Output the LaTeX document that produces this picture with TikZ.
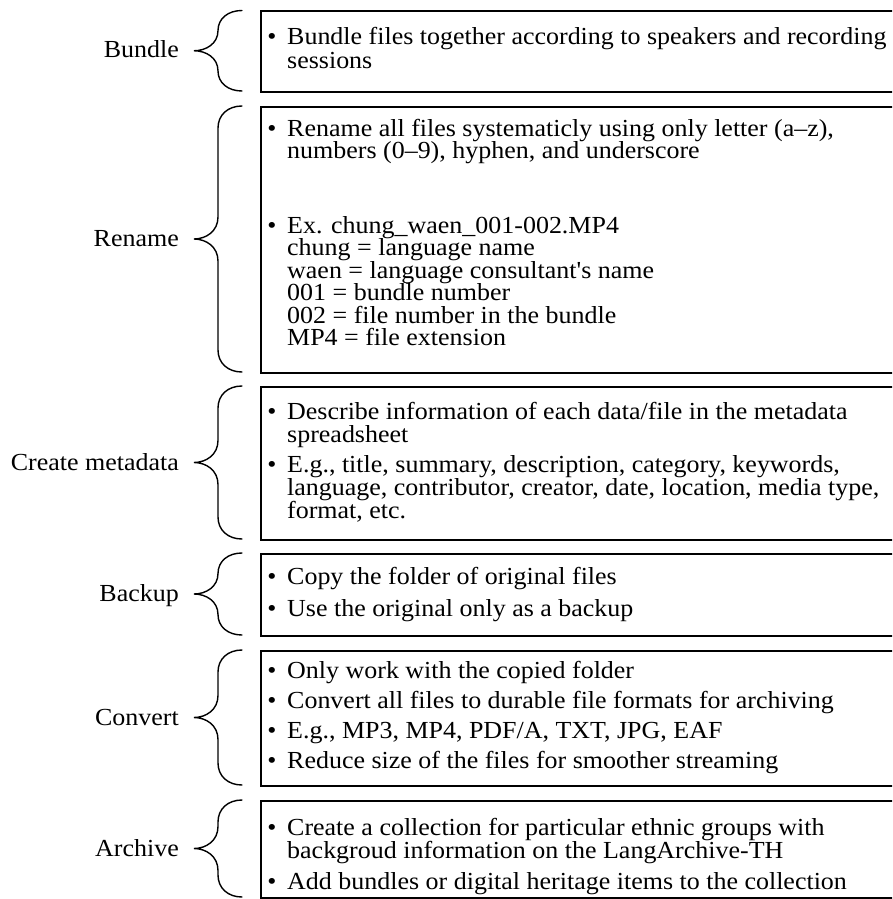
\documentclass[tikz,border=0pt]{standalone}
\usepackage{fontspec}
\newfontfamily\myserif{Liberation Serif}[FakeStretch=1.06]
\tikzset{
  txt/.style={anchor=base west, inner sep=0pt, font=\myserif\fontsize{24.5}{22.5}\selectfont},
  dotmark/.style={anchor=base, inner sep=0pt, font=\myserif\fontsize{24.5}{22.5}\selectfont},
  lbl/.style={anchor=base east, inner sep=0pt, font=\myserif\fontsize{24.5}{22.5}\selectfont},
  boxst/.style={draw, line width=1.8pt, anchor=north west, minimum width=660pt, inner sep=0pt},
  bracepath/.style={draw, line width=1.4pt, line cap=round},
}
\newcommand\mybrace[2]{%
  \pgfmathsetmacro\bt{#1}\pgfmathsetmacro\bb{#2}%
  \pgfmathsetmacro\bm{(#1+#2)/2}%
  \pgfmathsetmacro\br{min(22,(#2-#1)/4)}%
  \draw[bracepath] (242,\bt) .. controls (228,\bt) and (218,\bt+\br*0.4) .. (218,\bt+\br)
    -- (218,\bm-\br) .. controls (218,\bm-\br*0.35) and (206,\bm) .. (194,\bm)
    .. controls (206,\bm) and (218,\bm+\br*0.35) .. (218,\bm+\br)
    -- (218,\bb-\br) .. controls (218,\bb-\br*0.4) and (228,\bb) .. (242,\bb);
}
\newcommand\bul[2]{\node[dotmark] (#1) at (272,#2) {•};}
\begin{document}
\begin{tikzpicture}[x=1pt, y=-1pt]
\useasboundingbox (0,0) rectangle (892,899);
\clip (0,0) rectangle (892,899);
% boxes
\node[boxst, minimum height=80.5pt] (box1) at (260,10.5) {};
\node[boxst, minimum height=266pt] (box2) at (260,106) {};
\node[boxst, minimum height=153pt] (box3) at (260,386) {};
\node[boxst, minimum height=82pt] (box4) at (260,553) {};
\node[boxst, minimum height=135pt] (box5) at (260,650) {};
\node[boxst, minimum height=97pt] (box6) at (260,800) {};
% braces
\mybrace{10.5}{91}
\mybrace{106}{372}
\mybrace{386}{539}
\mybrace{553}{635}
\mybrace{650}{785}
\mybrace{800}{897}
% labels
\node[lbl] (l1) at (179,58) {Bundle};
\node[lbl] (l2) at (179,246) {Rename};
\node[lbl] (l3) at (179,470) {Create metadata};
\node[lbl] (l4) at (179,601) {Backup};
\node[lbl] (l5) at (179,725) {Convert};
\node[lbl] (l6) at (179,856) {Archive};
% box 1
\bul{b11}{45}
\node[txt] (t11) at (287,45) {Bundle files together according to speakers and recording};
\node[txt] (t12) at (287,69) {sessions};
% box 2
\bul{b21}{136}
\node[txt] (t21) at (287,136) {Rename all files systematicly using only letter (a–z),};
\node[txt] (t22) at (287,158.5) {numbers (0–9), hyphen, and underscore};
\bul{b22}{233}
\node[txt] (t23) at (287,233) {Ex. chung\_waen\_001-002.MP4};
\node[txt] (t24) at (287,255.5) {chung = language name};
\node[txt] (t25) at (287,278) {waen = language consultant's name};
\node[txt] (t26) at (287,300.5) {001 = bundle number};
\node[txt] (t27) at (287,323) {002 = file number in the bundle};
\node[txt] (t28) at (287,345.5) {MP4 = file extension};
% box 3
\bul{b31}{419}
\node[txt] (t31) at (287,419) {Describe information of each data/file in the metadata};
\node[txt] (t32) at (287,442) {spreadsheet};
\bul{b32}{472}
\node[txt] (t33) at (287,472) {E.g., title, summary, description, category, keywords,};
\node[txt] (t34) at (287,495) {language, contributor, creator, date, location, media type,};
\node[txt] (t35) at (287,518) {format, etc.};
% box 4
\bul{b41}{584}
\node[txt] (t41) at (287,584) {Copy the folder of original files};
\bul{b42}{616}
\node[txt] (t42) at (287,616) {Use the original only as a backup};
% box 5
\bul{b51}{678}
\node[txt] (t51) at (287,678) {Only work with the copied folder};
\bul{b52}{708}
\node[txt] (t52) at (287,708) {Convert all files to durable file formats for archiving};
\bul{b53}{738}
\node[txt] (t53) at (287,738) {E.g., MP3, MP4, PDF/A, TXT, JPG, EAF};
\bul{b54}{768}
\node[txt] (t54) at (287,768) {Reduce size of the files for smoother streaming};
% box 6
\bul{b61}{835}
\node[txt] (t61) at (287,835) {Create a collection for particular ethnic groups with};
\node[txt] (t62) at (287,858) {backgroud information on the LangArchive-TH};
\bul{b62}{889}
\node[txt] (t63) at (287,889) {Add bundles or digital heritage items to the collection};
\end{tikzpicture}
\end{document}
